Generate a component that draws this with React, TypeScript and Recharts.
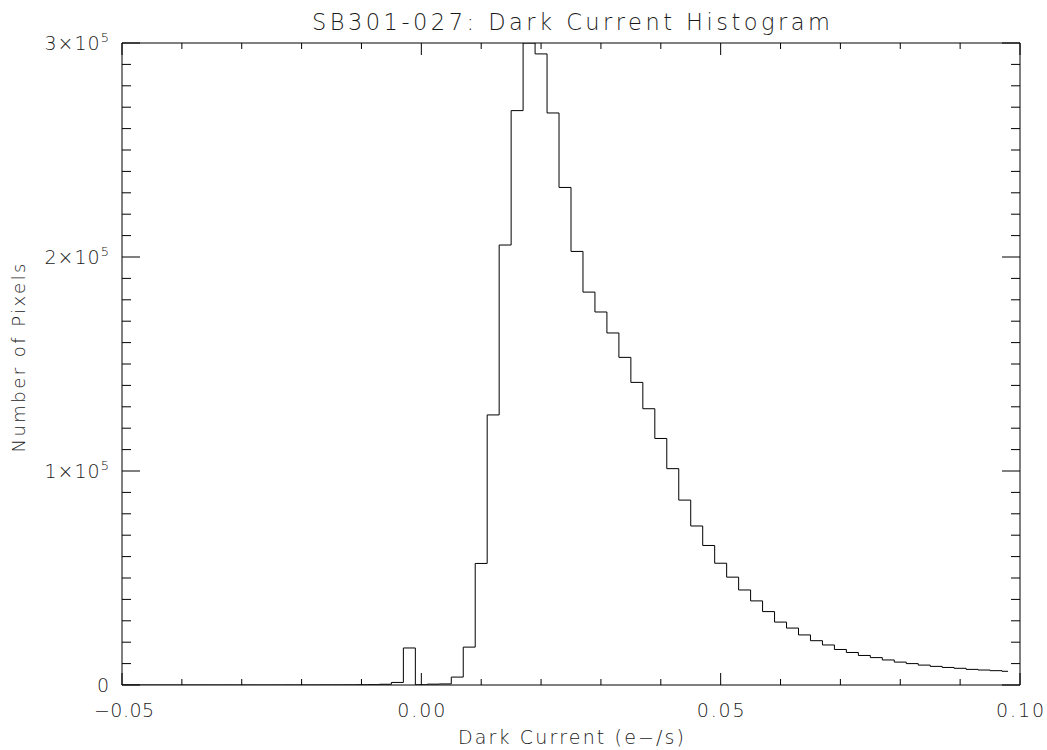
import React from 'react';
import { LineChart, Line, XAxis, YAxis } from 'recharts';

// histogram bins (centres, e-/s) and pixel counts
const binCenters = [
  -0.05, -0.048, -0.046, -0.044, -0.042, -0.04, -0.038, -0.036, -0.034, -0.032,
  -0.03, -0.028, -0.026, -0.024, -0.022, -0.02, -0.018, -0.016, -0.014, -0.012,
  -0.01, -0.008, -0.006, -0.004, -0.002, 0, 0.002, 0.004, 0.006, 0.008,
  0.01, 0.012, 0.014, 0.016, 0.018, 0.02, 0.022, 0.024, 0.026, 0.028,
  0.03, 0.032, 0.034, 0.036, 0.038, 0.04, 0.042, 0.044, 0.046, 0.048,
  0.05, 0.052, 0.054, 0.056, 0.058, 0.06, 0.062, 0.064, 0.066, 0.068,
  0.07, 0.072, 0.074, 0.076, 0.078, 0.08, 0.082, 0.084, 0.086, 0.088,
  0.09, 0.092, 0.094, 0.096, 0.098,
];

const pixelCounts = [
  0, 0, 0, 0, 0, 0, 0, 0, 0, 0,
  0, 0, 0, 0, 10, 10, 20, 30, 40, 60,
  100, 150, 350, 1200, 17300, 100, 400, 500, 3700, 17700,
  56800, 126200, 205600, 268400, 300000, 294900, 267300, 232500, 202600, 183600,
  174300, 164500, 153100, 141400, 129100, 115200, 101100, 86400, 74300, 65200,
  56900, 50400, 44400, 39300, 34300, 29400, 26600, 23400, 20700, 18700,
  16600, 15200, 13800, 12800, 11700, 10700, 10000, 9300, 8700, 8200,
  7800, 7300, 7000, 6700, 6400,
];

const xTicks = [
  -0.05, -0.04, -0.03, -0.02, -0.01, 0, 0.01, 0.02, 0.03, 0.04, 0.05, 0.06, 0.07, 0.08, 0.09, 0.1,
];
const xMajorTicks = [-0.05, 0, 0.05, 0.1];
const xTickLabels = ['\u22120.05', '0.00', '0.05', '0.10'];

const yTicks = [
  0, 10000, 20000, 30000, 40000, 50000, 60000, 70000, 80000, 90000,
  100000, 110000, 120000, 130000, 140000, 150000, 160000, 170000, 180000, 190000,
  200000, 210000, 220000, 230000, 240000, 250000, 260000, 270000, 280000, 290000, 300000,
];
const yMajorTicks = [0, 100000, 200000, 300000];
const yTickMantissas = ['0', '1', '2', '3'];

const data = binCenters.map((x, i) => ({ x, count: pixelCounts[i] }));

const FONT = '"DejaVu Sans", sans-serif';
const WEIGHT = 200;
const INK = '#000';
const TEXT_INK = '#1a1a1a';

const majorIndex = (list: number[], v: number) =>
  list.findIndex((m) => Math.abs(m - v) < 1e-9);

const BottomTick = ({ x, y, payload }: any) => {
  const idx = majorIndex(xMajorTicks, payload.value);
  const major = idx >= 0;
  const label = major ? xTickLabels[idx] : '';
  const negative = label.startsWith('\u2212');
  return (
    <g>
      <line x1={x} x2={x} y1={y} y2={y - (major ? 12 : 6)} stroke={INK} />
      {major && (
        <text
          x={x + (negative ? 2 : 0)}
          y={y + 32}
          textAnchor="middle"
          fontFamily={FONT}
          fontWeight={WEIGHT}
          fontSize={19}
          fill={TEXT_INK}
          textLength={negative ? 60 : 48}
          lengthAdjust="spacing"
        >
          {label}
        </text>
      )}
    </g>
  );
};

const TopTick = ({ x, y, payload }: any) => {
  const major = majorIndex(xMajorTicks, payload.value) >= 0;
  return <line x1={x} x2={x} y1={y} y2={y + (major ? 12 : 6)} stroke={INK} />;
};

const LeftTick = ({ x, y, payload }: any) => {
  const idx = majorIndex(yMajorTicks, payload.value);
  const major = idx >= 0;
  return (
    <g>
      <line x1={x} x2={x + (major ? 18 : 9)} y1={y} y2={y} stroke={INK} />
      {major && (
        <text
          x={x - 12}
          y={y + 7}
          textAnchor="end"
          fontFamily={FONT}
          fontWeight={WEIGHT}
          fontSize={19}
          letterSpacing={1}
          fill={TEXT_INK}
        >
          {idx === 0 ? (
            '0'
          ) : (
            <>
              {yTickMantissas[idx]}
              {'\u00d710'}
              <tspan dy={-8} fontSize={13}>
                5
              </tspan>
            </>
          )}
        </text>
      )}
    </g>
  );
};

const RightTick = ({ x, y, payload }: any) => {
  const major = majorIndex(yMajorTicks, payload.value) >= 0;
  return <line x1={x} x2={x - (major ? 18 : 9)} y1={y} y2={y} stroke={INK} />;
};

const TitleLabel = ({ viewBox }: any) => (
  <text
    x={viewBox.x + viewBox.width / 2}
    y={30}
    textAnchor="middle"
    fontFamily={FONT}
    fontWeight={WEIGHT}
    fontSize={22.5}
    fill={TEXT_INK}
    textLength={518}
    lengthAdjust="spacing"
  >
    SB301-027: Dark Current Histogram
  </text>
);

const XTitle = ({ viewBox }: any) => (
  <text
    x={viewBox.x + viewBox.width / 2}
    y={viewBox.y + 59}
    textAnchor="middle"
    fontFamily={FONT}
    fontWeight={WEIGHT}
    fontSize={19}
    fill={TEXT_INK}
    textLength={226}
    lengthAdjust="spacing"
  >
    Dark Current (e{'\u2212'}/s)
  </text>
);

const YTitle = ({ viewBox }: any) => {
  const cx = 25;
  const cy = viewBox.y + viewBox.height / 2 - 6;
  return (
    <text
      x={cx}
      y={cy}
      transform={`rotate(-90, ${cx}, ${cy})`}
      textAnchor="middle"
      fontFamily={FONT}
      fontWeight={WEIGHT}
      fontSize={18}
      fill={TEXT_INK}
      textLength={189}
      lengthAdjust="spacing"
    >
      Number of Pixels
    </text>
  );
};

export default function App() {
  return (
    <div style={{ position: 'absolute', left: 0, top: 0, background: '#fff' }}>
      <LineChart
        width={1047}
        height={750}
        data={data}
        margin={{ top: 0, right: 0, bottom: 0, left: 0 }}
      >
        <XAxis
          xAxisId={0}
          dataKey="x"
          type="number"
          domain={[-0.05, 0.1]}
          allowDataOverflow
          ticks={xTicks}
          interval={0}
          height={65}
          tickLine={false}
          tickSize={0}
          tickMargin={0}
          stroke={INK}
          tick={<BottomTick />}
          label={{ content: <XTitle /> }}
        />
        <XAxis
          xAxisId="top"
          orientation="top"
          dataKey="x"
          type="number"
          domain={[-0.05, 0.1]}
          allowDataOverflow
          ticks={xTicks}
          interval={0}
          height={43}
          tickLine={false}
          tickSize={0}
          tickMargin={0}
          stroke={INK}
          tick={<TopTick />}
          label={{ content: <TitleLabel /> }}
        />
        <YAxis
          yAxisId={0}
          type="number"
          domain={[0, 300000]}
          allowDataOverflow
          ticks={yTicks}
          interval={0}
          width={122}
          tickLine={false}
          tickSize={0}
          tickMargin={0}
          stroke={INK}
          tick={<LeftTick />}
          label={{ content: <YTitle /> }}
        />
        <YAxis
          yAxisId="right"
          orientation="right"
          type="number"
          domain={[0, 300000]}
          allowDataOverflow
          ticks={yTicks}
          interval={0}
          width={27}
          tickLine={false}
          tickSize={0}
          tickMargin={0}
          stroke={INK}
          tick={<RightTick />}
        />
        <Line
          xAxisId={0}
          yAxisId={0}
          type="step"
          dataKey="count"
          stroke={INK}
          strokeWidth={1}
          dot={false}
          activeDot={false}
          isAnimationActive={false}
        />
      </LineChart>
    </div>
  );
}
